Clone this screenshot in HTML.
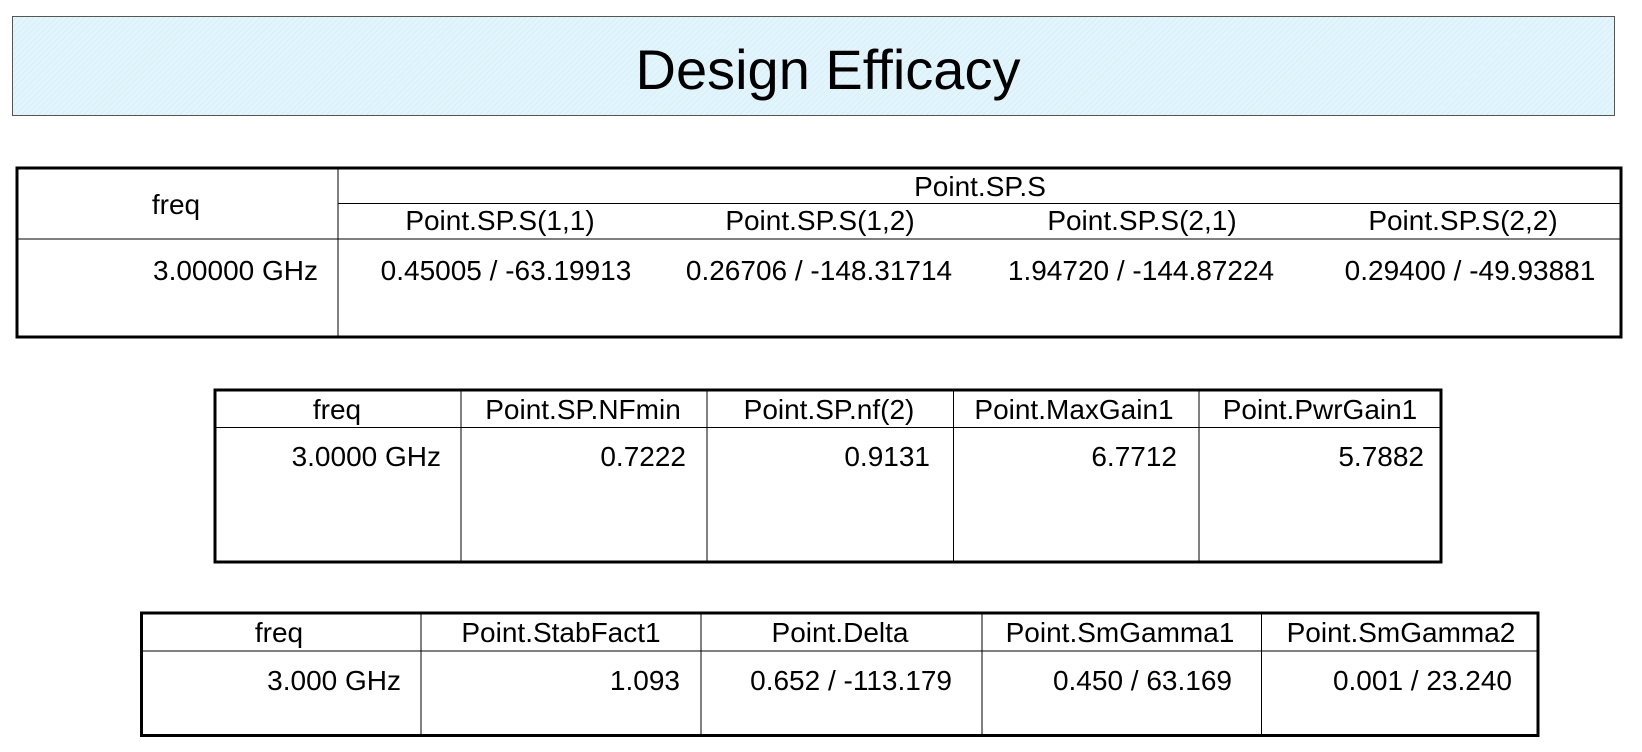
<!DOCTYPE html>
<html><head><meta charset="utf-8"><style>
html,body{margin:0;padding:0;background:#fff;}
svg{display:block;font-family:"Liberation Sans",Arial,sans-serif;}
</style></head><body>
<svg width="1642" height="752" viewBox="0 0 1642 752">
<defs>
<pattern id="hatch" width="4" height="4" patternUnits="userSpaceOnUse" patternTransform="rotate(45)">
<rect width="4" height="4" fill="#e2f5fc"/><line x1="0" y1="0" x2="0" y2="4" stroke="#cfe9f3" stroke-width="1"/>
</pattern>
</defs>
<g>
<rect x="12.5" y="16.5" width="1602" height="99" fill="url(#hatch)" stroke="#555" stroke-width="1"/>
<text x="828" y="89" font-size="56" text-anchor="middle" fill="#000">Design Efficacy</text>
</g>

<g font-size="28" fill="#000">
<rect x="17" y="168" width="1604" height="169" fill="none" stroke="#000" stroke-width="3"/>
<line x1="338" y1="168" x2="338" y2="337" stroke="#000" stroke-width="1"/>
<line x1="338" y1="203.5" x2="1621" y2="203.5" stroke="#000" stroke-width="1"/>
<line x1="17" y1="239" x2="1621" y2="239" stroke="#000" stroke-width="1"/>
<text x="176" y="214" text-anchor="middle">freq</text>
<text x="980" y="196" text-anchor="middle">Point.SP.S</text>
<text x="500" y="230" text-anchor="middle">Point.SP.S(1,1)</text>
<text x="820" y="230" text-anchor="middle">Point.SP.S(1,2)</text>
<text x="1142" y="230" text-anchor="middle">Point.SP.S(2,1)</text>
<text x="1463" y="230" text-anchor="middle">Point.SP.S(2,2)</text>
<text x="318" y="280" text-anchor="end">3.00000 GHz</text>
<text x="506" y="280" text-anchor="middle">0.45005 / -63.19913</text>
<text x="819" y="280" text-anchor="middle">0.26706 / -148.31714</text>
<text x="1141" y="280" text-anchor="middle">1.94720 / -144.87224</text>
<text x="1470" y="280" text-anchor="middle">0.29400 / -49.93881</text>
</g>

<g font-size="28" fill="#000">
<rect x="215" y="390" width="1226" height="172" fill="none" stroke="#000" stroke-width="3"/>
<line x1="215" y1="427.5" x2="1441" y2="427.5" stroke="#000" stroke-width="1"/>
<line x1="461" y1="390" x2="461" y2="562" stroke="#000" stroke-width="1"/>
<line x1="707" y1="390" x2="707" y2="562" stroke="#000" stroke-width="1"/>
<line x1="953.5" y1="390" x2="953.5" y2="562" stroke="#000" stroke-width="1"/>
<line x1="1199" y1="390" x2="1199" y2="562" stroke="#000" stroke-width="1"/>
<text x="337" y="419" text-anchor="middle">freq</text>
<text x="583" y="419" text-anchor="middle">Point.SP.NFmin</text>
<text x="829" y="419" text-anchor="middle">Point.SP.nf(2)</text>
<text x="1074" y="419" text-anchor="middle">Point.MaxGain1</text>
<text x="1320" y="419" text-anchor="middle">Point.PwrGain1</text>
<text x="441" y="466" text-anchor="end">3.0000 GHz</text>
<text x="686" y="466" text-anchor="end">0.7222</text>
<text x="930" y="466" text-anchor="end">0.9131</text>
<text x="1177" y="466" text-anchor="end">6.7712</text>
<text x="1424" y="466" text-anchor="end">5.7882</text>
</g>

<g font-size="28" fill="#000">
<rect x="141.5" y="613" width="1396.5" height="122.5" fill="none" stroke="#000" stroke-width="3"/>
<line x1="141.5" y1="651" x2="1538" y2="651" stroke="#000" stroke-width="1"/>
<line x1="421" y1="613" x2="421" y2="735.5" stroke="#000" stroke-width="1"/>
<line x1="701" y1="613" x2="701" y2="735.5" stroke="#000" stroke-width="1"/>
<line x1="982" y1="613" x2="982" y2="735.5" stroke="#000" stroke-width="1"/>
<line x1="1261.5" y1="613" x2="1261.5" y2="735.5" stroke="#000" stroke-width="1"/>
<text x="279" y="642" text-anchor="middle">freq</text>
<text x="561" y="642" text-anchor="middle">Point.StabFact1</text>
<text x="840" y="642" text-anchor="middle">Point.Delta</text>
<text x="1120" y="642" text-anchor="middle">Point.SmGamma1</text>
<text x="1401" y="642" text-anchor="middle">Point.SmGamma2</text>
<text x="401" y="690" text-anchor="end">3.000 GHz</text>
<text x="680" y="690" text-anchor="end">1.093</text>
<text x="952" y="690" text-anchor="end">0.652 / -113.179</text>
<text x="1232" y="690" text-anchor="end">0.450 / 63.169</text>
<text x="1512" y="690" text-anchor="end">0.001 / 23.240</text>
</g>
</svg>
</body></html>
